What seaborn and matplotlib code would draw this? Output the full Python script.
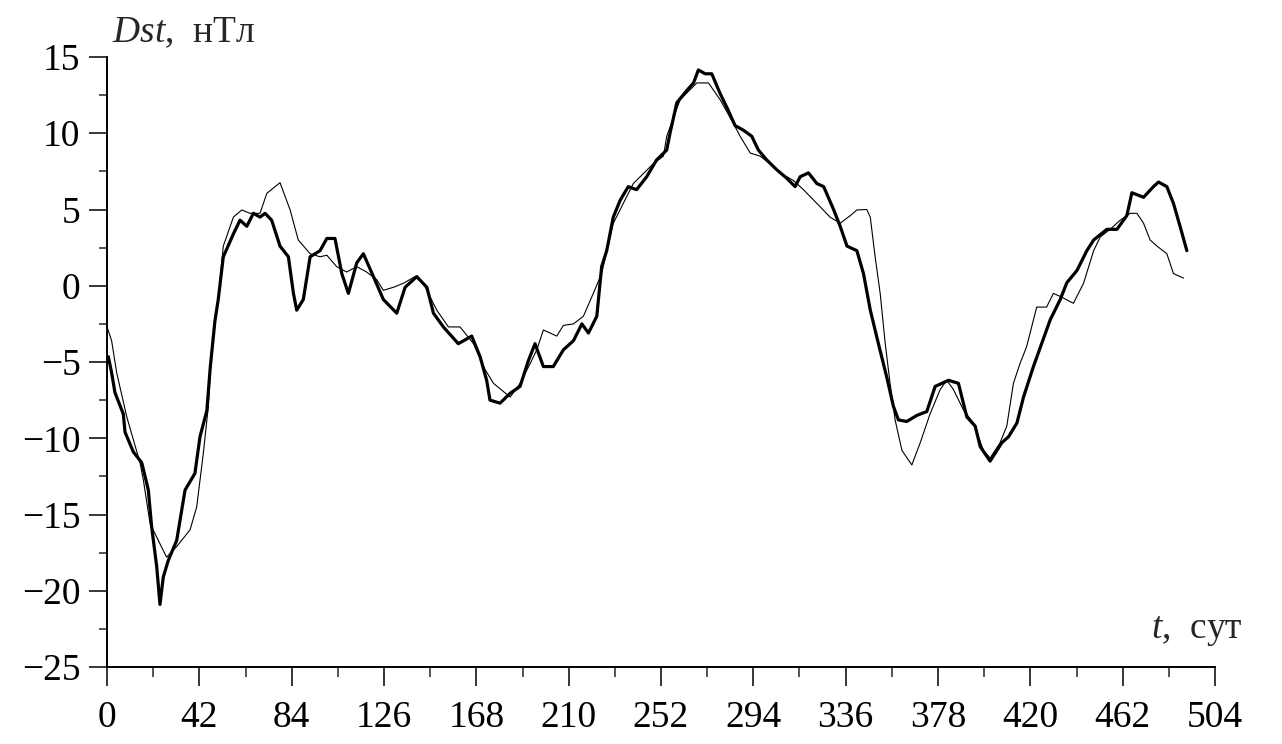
import numpy as np
import pandas as pd
import matplotlib
matplotlib.use("Agg")
import matplotlib.pyplot as plt
from matplotlib.ticker import MultipleLocator
import seaborn as sns

# ---- data ----
t_thick = [0, 0.6, 2.1, 3.6, 7.4, 8.2, 12, 15.8, 18.8, 20.3, 22.6, 24.1, 25.6, 27.9, 31.7,
           35.5, 40, 42.3, 45.4, 47, 49.1, 50.6, 52.9, 57.5, 60.5, 63.6, 66.6, 69.6, 71.9,
           74.9, 78.7, 82.5, 84.8, 86.3, 89.3, 92.4, 96.9, 100, 103.7, 106.8, 109.8, 113.6,
           116.6, 121.2, 125.7, 131.8, 135.6, 140.9, 145.5, 148.5, 153, 159.8, 165.9, 169.7,
           172.7, 174.2, 178.8, 183.4, 187.9, 191.7, 194.7, 198.5, 203, 207.6, 212.2, 216,
           219, 222.8, 225, 227.3, 230.3, 233.4, 237.1, 240.9, 245.5, 250, 254.6, 256.1,
           259.2, 263.7, 266.8, 269, 272.1, 275.1, 278.9, 282.6, 285.7, 289.5, 293.3, 296.3,
           300.1, 304.7, 309.2, 313, 315.3, 319.1, 322.9, 326, 330.5, 333.5, 336.6, 341.1,
           344.1, 347.2, 350.9, 354.7, 357.7, 360, 363.8, 368.4, 372.9, 376.7, 382.8, 387.3,
           391.1, 394.9, 397.2, 401.7, 407, 410.1, 413.9, 416.9, 421.4, 429, 433.6, 436.6,
           441.2, 445.7, 448.8, 454.8, 459.4, 463.9, 466.2, 471.5, 476, 478.3, 482.1, 485.1,
           488.1, 491.2]
dst_thick = [-4.7, -4.65, -5.7, -7.0, -8.4, -9.6, -10.9, -11.6, -13.4, -15.8, -18.4, -20.9,
             -19.1, -18.0, -16.7, -13.4, -12.3, -9.9, -8.2, -5.3, -2.3, -0.9, 1.9, 3.4, 4.3,
             3.9, 4.75, 4.5, 4.75, 4.3, 2.6, 1.9, -0.5, -1.6, -0.9, 1.9, 2.3, 3.1, 3.1, 0.8,
             -0.5, 1.5, 2.1, 0.6, -0.9, -1.8, -0.1, 0.6, -0.1, -1.8, -2.7, -3.8, -3.3, -4.65,
             -6.2, -7.5, -7.7, -7.05, -6.6, -4.9, -3.8, -5.3, -5.3, -4.2, -3.6, -2.5, -3.1,
             -2.0, 1.25, 2.3, 4.5, 5.6, 6.5, 6.3, 7.15, 8.25, 8.9, 10.0, 12.0, 12.8, 13.3,
             14.15, 13.9, 13.9, 12.6, 11.5, 10.5, 10.2, 9.8, 8.9, 8.25, 7.6, 7.05, 6.5, 7.15,
             7.4, 6.7, 6.5, 5.0, 3.9, 2.6, 2.3, 0.8, -1.6, -3.8, -6.0, -7.9, -8.8, -8.9, -8.5,
             -8.25, -6.6, -6.2, -6.4, -8.6, -9.2, -10.55, -11.5, -10.3, -9.9, -9.0, -7.3,
             -5.3, -2.25, -0.9, 0.2, 1.0, 2.3, 3.0, 3.7, 3.7, 4.6, 6.1, 5.8, 6.5, 6.8, 6.5,
             5.4, 3.9, 2.3]

t_thin = [0, 2.1, 4.4, 9, 15, 16.5, 19.6, 27.1, 31.7, 37.8, 40.8, 43.8, 46.1, 47.6, 50.6,
          52.9, 57.5, 61.3, 65, 69.6, 72.7, 78.7, 83.3, 87, 92.4, 96.9, 100, 104.5, 109,
          113.6, 118.1, 122.7, 125.7, 130.3, 134.8, 140.1, 143.9, 150, 155.3, 160.6, 166.7,
          172, 175.8, 183.4, 187.9, 192.5, 195.5, 198.5, 204.6, 207.6, 212.2, 216.7, 221.2,
          225, 230.3, 239.4, 248.5, 253.1, 254.6, 260.7, 268.3, 273.6, 278.9, 284.9, 288,
          292.6, 297.1, 301.6, 306.2, 312.2, 316.8, 322.9, 328.9, 333.5, 338.1, 341.1, 345.6,
          347.2, 349.4, 351.7, 354, 356.2, 358.5, 361.6, 366.1, 369.9, 374.4, 379, 382, 385,
          389.6, 394.1, 398.7, 401.7, 406.2, 409.3, 412.3, 415.3, 418.3, 422.9, 427.4, 430.5,
          433.6, 439.6, 444.2, 448.8, 451.8, 456.3, 460.9, 465.4, 468.5, 471.5, 474.5, 477.6,
          482.1, 485.1, 489.7]
dst_thin = [-2.7, -3.6, -5.7, -8.6, -11.6, -12.7, -15.6, -17.8, -17.1, -16.0, -14.5, -11.0,
            -7.9, -4.2, -0.9, 2.6, 4.5, 4.97, 4.75, 4.75, 6.06, 6.76, 4.97, 3.0, 2.1, 1.9,
            2.0, 1.25, 0.9, 1.25, 0.9, 0.4, -0.3, -0.1, 0.16, 0.6, 0.16, -1.6, -2.7, -2.7,
            -3.8, -5.5, -6.4, -7.3, -6.4, -5.1, -4.2, -2.9, -3.3, -2.6, -2.5, -2.0, -0.5, 0.8,
            4.1, 6.7, 8.0, 8.5, 9.8, 12.2, 13.3, 13.3, 12.2, 10.65, 9.8, 8.7, 8.5, 8.0, 7.4,
            6.9, 6.3, 5.4, 4.5, 4.1, 4.6, 4.97, 5.0, 4.5, 1.9, -0.5, -3.8, -6.4, -8.8, -10.8,
            -11.75, -10.3, -8.4, -6.8, -6.2, -6.8, -8.15, -9.0, -10.8, -11.3, -10.3, -9.2,
            -6.4, -5.1, -4.0, -1.4, -1.4, -0.5, -0.7, -1.15, 0.16, 2.3, 3.2, 3.7, 4.3, 4.75,
            4.75, 4.1, 3.0, 2.6, 2.1, 0.8, 0.5]

x_ticks = [0, 42, 84, 126, 168, 210, 252, 294, 336, 378, 420, 462, 504]
y_ticks = [-25, -20, -15, -10, -5, 0, 5, 10, 15]

# ---- style ----
sns.set_style("ticks")
plt.rcParams['font.family'] = ['Liberation Serif', 'DejaVu Serif']
plt.rcParams['mathtext.fontset'] = 'custom'
plt.rcParams['mathtext.rm'] = 'Liberation Serif'
plt.rcParams['mathtext.it'] = 'Liberation Serif:italic'
plt.rcParams['axes.unicode_minus'] = True

fig = plt.figure(figsize=(12.82, 7.44), dpi=100)
ax = fig.add_axes([107 / 1282, 77 / 744, (1215 - 107) / 1282, (667 - 57) / 744])

df_thick = pd.DataFrame({"t": t_thick, "dst": dst_thick})
df_thin = pd.DataFrame({"t": t_thin, "dst": dst_thin})
sns.lineplot(data=df_thin, x="t", y="dst", ax=ax, color="black", linewidth=0.8,
             sort=False, estimator=None)
sns.lineplot(data=df_thick, x="t", y="dst", ax=ax, color="black", linewidth=2.3,
             sort=False, estimator=None)

ax.set_xlim(0, 504)
ax.set_ylim(-25, 15)
ax.set_xticks(x_ticks)
ax.set_yticks(y_ticks)
ax.xaxis.set_minor_locator(MultipleLocator(21))
ax.yaxis.set_minor_locator(MultipleLocator(2.5))
ax.set_xticklabels([str(v) for v in x_ticks])
ax.set_yticklabels([str(v).replace('-', '\u2212') for v in y_ticks])

for s in ['top', 'right']:
    ax.spines[s].set_visible(False)
for s in ['left', 'bottom']:
    ax.spines[s].set_linewidth(1.4)
    ax.spines[s].set_color('black')

ax.tick_params(axis='both', which='major', direction='out', width=1.1, colors='black',
               labelsize=27)
ax.tick_params(axis='y', which='major', length=13, pad=6)
ax.tick_params(axis='x', which='major', length=14, pad=10)
ax.tick_params(axis='y', which='minor', direction='out', length=6, width=1.1)
ax.tick_params(axis='x', which='minor', direction='out', length=7, width=1.1)

ax.set_xlabel("")
ax.set_ylabel("")

fig.text(112 / 1282, 1 - 42 / 744, "$\\mathit{Dst}$,  нТл", fontsize=27,
         ha='left', va='baseline')
fig.text(1243 / 1282, 1 - 638 / 744, "$\\mathit{t}$,  сут", fontsize=27,
         ha='right', va='baseline')

fig.savefig("out.png", dpi=100, facecolor='white')
